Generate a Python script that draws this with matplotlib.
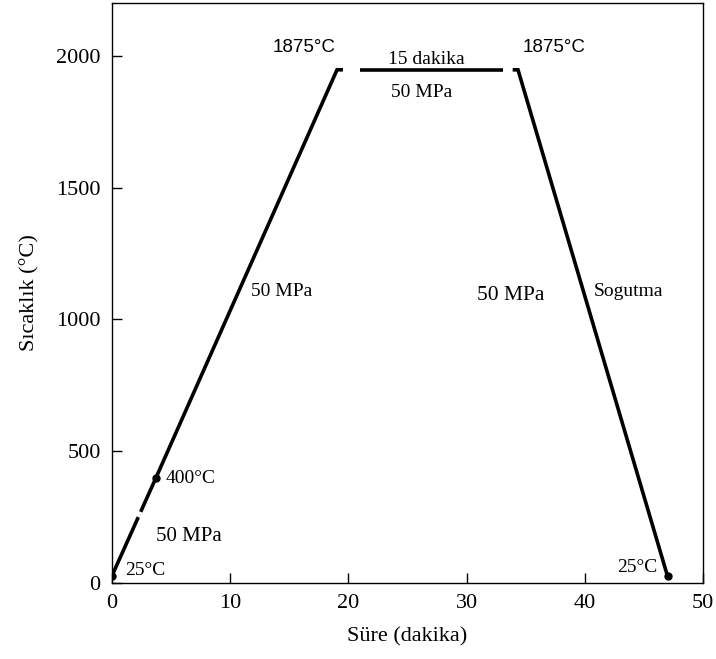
import matplotlib.pyplot as plt

# process profile (time in min, temperature in C)
t_pts = [0, 3.75, 19.05, 34.35, 47.0]
T_pts = [25, 400, 1947, 1947, 25]

# little breaks that the original drawing has in the line
heat_break = [2.25, 2.45]
hold_break_left = [19.55, 21.0]
hold_break_right = [33.1, 33.9]

x_ticks = [0, 10, 20, 30, 40, 50]
y_ticks = [0, 500, 1000, 1500, 2000]

serif = "Liberation Serif"
sans = "Liberation Sans"


def on_line(x0, y0, x1, y1, x):
    return y0 + (y1 - y0) * (x - x0) / (x1 - x0)


fig = plt.figure(figsize=(7.16, 6.59), dpi=100)
ax = fig.add_axes([0.156, 0.1153, 0.826, 0.88])

lw = 2.6
k = dict(color="black", lw=lw, solid_capstyle="butt", solid_joinstyle="miter")
# heating 25 -> 400 -> 1947 with a break
ax.plot([t_pts[0], heat_break[0]],
        [T_pts[0], on_line(t_pts[0], T_pts[0], t_pts[1], T_pts[1], heat_break[0])], **k)
ax.plot([heat_break[1], t_pts[1], t_pts[2], hold_break_left[0]],
        [on_line(t_pts[0], T_pts[0], t_pts[1], T_pts[1], heat_break[1]), T_pts[1],
         T_pts[2], T_pts[2]], **k)
# hold at top
ax.plot([hold_break_left[1], hold_break_right[0]], [T_pts[2], T_pts[3]], **k)
# cooling
ax.plot([hold_break_right[1], t_pts[3], t_pts[4]], [T_pts[3], T_pts[3], T_pts[4]], **k)

# dots
ax.plot([t_pts[0], t_pts[1], t_pts[4]], [T_pts[0], T_pts[1], T_pts[4]], "o",
        color="black", ms=5)

ax.set_xlim(0, 50)
ax.set_ylim(0, 2200)
ax.set_xticks(x_ticks)
ax.set_yticks(y_ticks)
ax.tick_params(direction="in", length=7, width=1, labelsize=16, pad=8)
for lab in ax.get_xticklabels() + ax.get_yticklabels():
    lab.set_family(serif)
for s in ax.spines.values():
    s.set_linewidth(1)

ax.set_xlabel("Süre (dakika)", family=serif, fontsize=16, labelpad=10)
ax.set_ylabel("Sıcaklık (°C)", family=serif, fontsize=16, labelpad=12)

# annotations
ax.text(16.3, 2030, "1875°C", family=sans, fontsize=13.5, ha="center", va="center")
ax.text(37.4, 2030, "1875°C", family=sans, fontsize=13.5, ha="center", va="center")
ax.text(26.6, 1985, "15 dakika", family=serif, fontsize=14, ha="center", va="center")
ax.text(26.2, 1862, "50 MPa", family=serif, fontsize=14, ha="center", va="center")
ax.text(14.4, 1105, "50 MPa", family=serif, fontsize=14, ha="center", va="center")
ax.text(33.7, 1090, "50 MPa", family=serif, fontsize=15.5, ha="center", va="center")
ax.text(43.65, 1105, "Sogutma", family=serif, fontsize=14, ha="center", va="center")
ax.text(6.7, 397, "400°C", family=serif, fontsize=14, ha="center", va="center")
ax.text(6.55, 178, "50 MPa", family=serif, fontsize=15, ha="center", va="center")
ax.text(2.85, 47, "25°C", family=serif, fontsize=14, ha="center", va="center")
ax.text(44.4, 57, "25°C", family=serif, fontsize=14, ha="center", va="center")

fig.savefig("out.png", dpi=100)
